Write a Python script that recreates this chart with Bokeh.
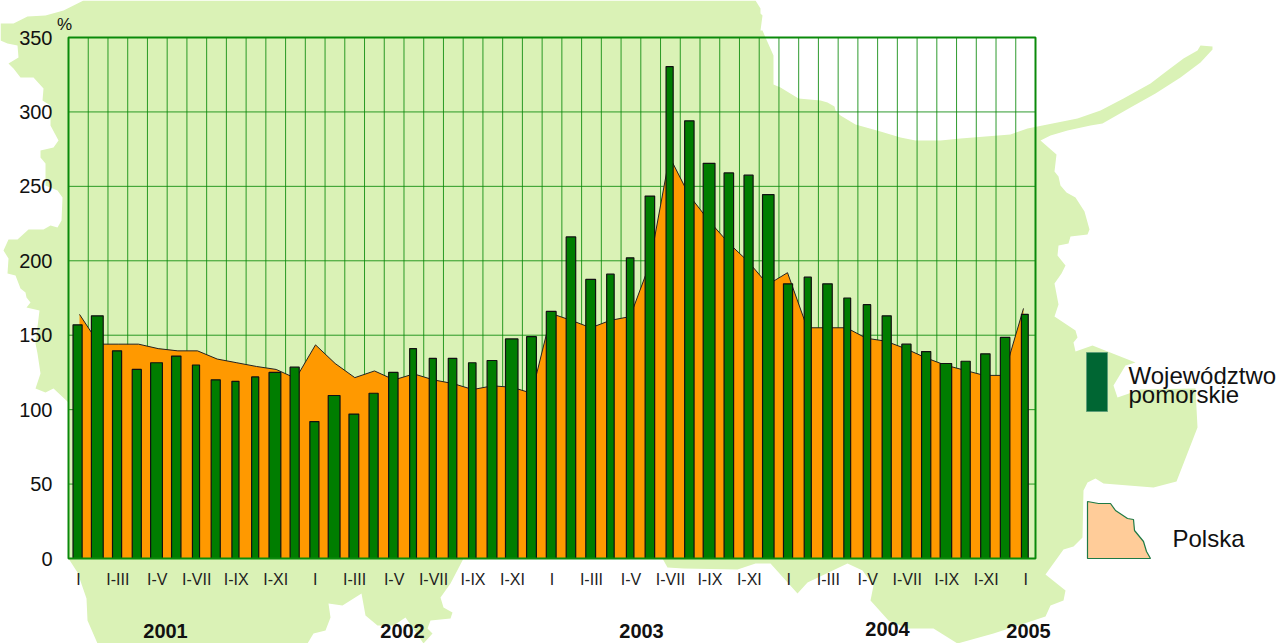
from bokeh.core.properties import value
from bokeh.embed import file_html
from bokeh.models import FixedTicker, Range1d
from bokeh.plotting import figure
from bokeh.resources import INLINE

# ---------- data ----------
wojewodztwo = [157, 163, 139.5, 127, 131.5, 136, 130, 120, 119, 122, 125, 128.5,
               92, 109.5, 97, 111, 125, 141, 134.5, 134.5, 131.5, 133, 147.5, 149,
               166, 216, 187.5, 191, 202, 243.5, 330.5, 294, 265.5, 259, 257.5, 244.5,
               184.5, 189, 184.5, 175, 170.5, 163, 144, 139, 131, 132.5, 137.5, 148.5, 164]
polska = [164, 144, 144, 144, 141, 139.5, 139.5, 134, 131.5, 129, 127, 121,
          143.5, 131, 121.5, 126, 120, 124, 120, 117.5, 113.5, 116, 115, 111,
          164.5, 160, 155, 160, 162.5, 198, 270, 244, 227, 212, 199.5, 184,
          192, 155, 155, 155, 148, 146, 141, 135, 130, 126.5, 123, 123, 168]
month_labels = ["I", "I-III", "I-V", "I-VII", "I-IX", "I-XI"]
year_labels = ["2001", "2002", "2003", "2004", "2005"]
y_ticks = [0, 50, 100, 150, 200, 250, 300, 350]
legend_labels = ["Województwo", "pomorskie", "Polska"]

# ---------- layout, in pixels of the 1281x643 picture ----------
W, H = 1281, 643
LEFT, RIGHT, TOP, BOTTOM = 68, 1035, 37, 558
N = len(wojewodztwo)
x_unit = (RIGHT - LEFT) / N
y_unit = (BOTTOM - TOP) / 350
cats = list(range(N))
bar_widths_px = [9.3, 12, 9.3, 9.3, 12, 9.6, 7.3, 9.3, 7.3, 7.3, 12, 9.3, 9.3, 12, 10, 9.3, 9.6, 7, 7.3, 8.7,
                 7.7, 10, 12.7, 10, 10, 9.7, 10, 7.7, 7.7, 9.7, 7.3, 9.6, 12, 9.7, 9.3, 11.7, 9.3, 7.3, 9.7, 7,
                 7.6, 9.3, 9.4, 9.4, 11.7, 9.4, 9.6, 9.7, 7]

map_outline = [
    (0, 23), (13, 23), (27, 16), (45, 15), (63, 10), (83, 0), (755, 0), (760, 8), (760, 13), (762, 15),
    (760, 30), (762, 30), (765, 37), (773, 55), (773, 84), (780, 87), (798, 98), (820, 100), (827, 102),
    (834, 106), (835, 110), (840, 115), (855, 124), (880, 131), (900, 137), (915, 140), (940, 140),
    (960, 138), (1010, 134), (1027, 128), (1077, 118), (1100, 110), (1123, 98), (1150, 83), (1167, 70),
    (1183, 58), (1197, 50), (1200, 45), (1212, 46), (1212, 49), (1200, 62), (1180, 77), (1155, 93),
    (1130, 107), (1102, 123), (1090, 125), (1067, 130), (1050, 135), (1040, 140), (1056, 154), (1054, 171),
    (1058, 176), (1060, 185), (1066, 192), (1075, 197), (1084, 211), (1089, 229), (1087, 234), (1070, 236),
    (1068, 243), (1058, 245), (1057, 255), (1065, 265), (1061, 273), (1054, 283), (1058, 304), (1054, 316),
    (1075, 330), (1077, 337), (1073, 342), (1075, 351), (1092, 345), (1135, 362), (1125, 365), (1113, 385),
    (1117, 397), (1140, 389), (1195, 388), (1197, 427), (1176, 481), (1153, 487), (1103, 483), (1095, 478),
    (1087, 482), (1083, 490), (1082, 537), (1073, 546), (1063, 549), (1045, 574), (1065, 590), (1063, 600),
    (1050, 605), (1045, 616), (993, 633), (957, 643), (933, 628), (907, 628), (888, 620), (870, 600),
    (873, 585), (862, 570), (847, 563), (807, 582), (797, 593), (770, 563), (755, 563), (737, 569),
    (683, 568), (667, 567), (662, 558), (463, 558), (450, 583), (440, 597), (443, 607), (452, 612),
    (450, 618), (430, 620), (427, 628), (432, 633), (423, 643), (405, 617), (393, 625), (377, 625),
    (365, 615), (361, 593), (342, 605), (328, 603), (330, 617), (325, 630), (313, 633), (307, 643),
    (97, 643), (87, 620), (86, 598), (77, 572), (68, 558), (68, 402), (53, 388), (45, 392), (35, 388),
    (40, 373), (37, 353), (35, 343), (39, 310), (26, 307), (30, 302), (26, 297), (25, 292), (20, 288),
    (15, 275), (7, 273), (8, 258), (3, 250), (8, 239), (17, 239), (28, 229), (43, 229), (50, 225),
    (57, 227), (61, 220), (62, 197), (57, 190), (45, 185), (45, 163), (40, 157), (40, 150), (53, 147),
    (58, 140), (50, 125), (50, 105), (42, 100), (43, 88), (33, 77), (20, 77), (13, 68), (8, 63), (18, 57),
    (17, 45), (7, 43), (0, 40),
]
polska_swatch = [(1087, 501), (1098, 503), (1110, 503), (1115, 510), (1127, 518), (1133, 519), (1134, 530),
                 (1143, 541), (1146, 551), (1150, 558), (1087, 558)]

GREEN_BG, GREEN_LINE, GREEN_BAR, ORANGE = "#DAF2B6", "#0A8A0A", "#007D00", "#FF9900"
FONT = value("Liberation Sans")

p = figure(
    width=W, height=H, output_backend="svg", toolbar_location=None, min_border=0,
    x_range=Range1d(-0.5 - LEFT / x_unit, N - 0.5 + (W - RIGHT) / x_unit),
    y_range=Range1d(-(H - BOTTOM) / y_unit, 350 + TOP / y_unit),
    background_fill_color="white", border_fill_color="white", outline_line_color=None,
)
p.extra_x_ranges = {"px": Range1d(0, W)}
p.extra_y_ranges = {"px": Range1d(H, 0)}
PX = dict(x_range_name="px", y_range_name="px")

# Background map of the region
p.patch([q[0] for q in map_outline], [q[1] for q in map_outline], fill_color=GREEN_BG, line_color=None,
        level="image", **PX)

# Grid lines limited to the plot box
p.xgrid.visible = False
p.ygrid.visible = False
grid_x = [c - 0.5 for c in range(N + 1)]
p.segment(x0=grid_x, x1=grid_x, y0=[0] * len(grid_x), y1=[350] * len(grid_x),
          line_color=GREEN_LINE, line_width=1, line_alpha=0.85, level="underlay")
p.segment(x0=[-0.5] * len(y_ticks), x1=[N - 0.5] * len(y_ticks), y0=y_ticks, y1=y_ticks,
          line_color=GREEN_LINE, line_width=1, line_alpha=0.85, level="underlay")

# Polska as area, Województwo as bars
area_x = [(79 + (1023 - 79) / (N - 1) * c - LEFT) / x_unit - 0.5 for c in cats]
p.varea(x=area_x, y1=[0] * N, y2=polska, fill_color=ORANGE)
p.line(x=area_x, y=polska, line_color="#222222", line_width=1)
p.vbar(x=[c - 0.04 for c in cats], top=wojewodztwo, width=[(b - 0.2) / x_unit for b in bar_widths_px],
       fill_color=GREEN_BAR, line_color="#111111", line_width=1.2)

# Frame
p.quad(left=-0.5, right=N - 0.5, bottom=0, top=350, fill_color=None, line_color=GREEN_LINE, line_width=2)

# Axes
ax = p.xaxis[0]
ax.fixed_location = 0
ax.bounds = (-0.5, N - 0.5)
ax.ticker = FixedTicker(ticks=cats[::2])
ax.major_label_overrides = {c: month_labels[(i % 6)] for i, c in enumerate(cats[::2])}
ax.major_label_text_font = "Liberation Sans"
ax.major_label_text_font_size = "16px"
ax.major_label_text_color = "#222222"
ax.major_label_standoff = 6
ax.axis_line_color = GREEN_LINE
ax.major_tick_line_color = None
ax.minor_tick_line_color = None

ay = p.yaxis[0]
ay.fixed_location = -0.5
ay.bounds = (0, 350)
ay.ticker = FixedTicker(ticks=y_ticks)
ay.major_label_text_font = "Liberation Sans"
ay.major_label_text_font_size = "20px"
ay.major_label_text_color = "#111111"
ay.major_label_standoff = 10
ay.axis_line_color = GREEN_LINE
ay.major_tick_line_color = None
ay.minor_tick_line_color = None

# Unit, years
p.text(x=[64], y=[24], text=["%"], text_font=FONT, text_font_size="17px", text_color="#111111",
       text_align="center", text_baseline="alphabetic", **PX)
p.text(x=[165, 402, 641, 887, 1028], y=[630, 630, 630, 628, 630], text=year_labels, text_font=FONT,
       text_font_size="20px", text_font_style="bold", text_color="#111111",
       text_align="center", text_baseline="alphabetic", **PX)

# Legend
p.quad(left=1086, right=1107, top=352, bottom=411, fill_color="#006633", line_color="#5E9E78", line_width=1, **PX)
p.patch([q[0] for q in polska_swatch], [q[1] for q in polska_swatch], fill_color="#FFCC99",
        line_color="#1F7A45", line_width=1.2, **PX)
p.text(x=[1128, 1128, 1172], y=[375, 394, 538], text=legend_labels, text_font=FONT, text_font_size="24px",
       text_color="#111111", text_align="left", text_baseline="alphabetic", **PX)

open("out.html", "w").write(file_html(p, INLINE))
